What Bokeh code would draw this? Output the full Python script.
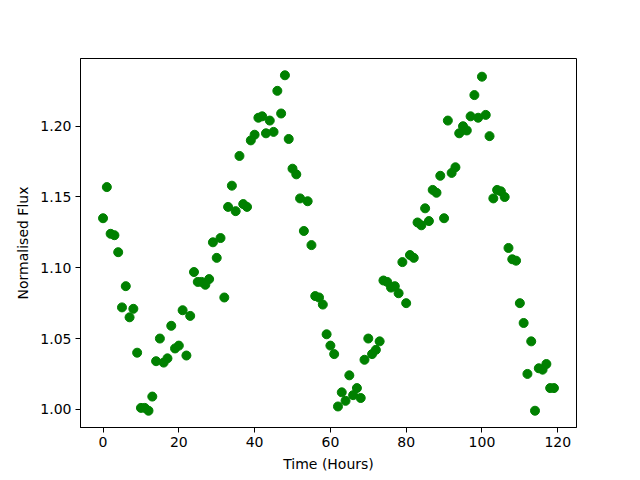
from bokeh.plotting import figure
from bokeh.models import Range1d, FixedTicker, CustomJSTickFormatter
from bokeh.embed import file_html
from bokeh.resources import INLINE

hours = list(range(120))
flux = [
    1.135, 1.157, 1.124, 1.123, 1.111, 1.072, 1.087, 1.065, 1.071, 1.040,
    1.001, 1.001, 0.999, 1.009, 1.034, 1.050, 1.033, 1.036, 1.059, 1.043,
    1.045, 1.070, 1.038, 1.066, 1.097, 1.090, 1.090, 1.088, 1.092, 1.118,
    1.107, 1.121, 1.079, 1.143, 1.158, 1.140, 1.179, 1.145, 1.143, 1.190,
    1.194, 1.206, 1.207, 1.195, 1.204, 1.196, 1.225, 1.209, 1.236, 1.191,
    1.170, 1.166, 1.149, 1.126, 1.147, 1.116, 1.080, 1.079, 1.074, 1.053,
    1.045, 1.039, 1.002, 1.012, 1.006, 1.024, 1.010, 1.015, 1.008, 1.035,
    1.050, 1.039, 1.042, 1.048, 1.091, 1.090, 1.086, 1.087, 1.082, 1.104,
    1.075, 1.109, 1.107, 1.132, 1.130, 1.142, 1.133, 1.155, 1.153, 1.165,
    1.135, 1.204, 1.167, 1.171, 1.195, 1.200, 1.197, 1.207, 1.222, 1.206,
    1.235, 1.208, 1.193, 1.149, 1.155, 1.154, 1.150, 1.114, 1.106, 1.105,
    1.075, 1.061, 1.025, 1.048, 0.999, 1.029, 1.028, 1.032, 1.015, 1.015,
]
x_ticks = [0, 20, 40, 60, 80, 100, 120]
y_ticks = [1.00, 1.05, 1.10, 1.15, 1.20]
x_label = "Time (Hours)"
y_label = "Normalised Flux"

xmin, xmax = min(hours), max(hours)
ymin, ymax = min(flux), max(flux)
xm = 0.05 * (xmax - xmin)
ym = 0.05 * (ymax - ymin)

p = figure(width=640, height=480, output_backend="svg", toolbar_location=None,
           x_range=Range1d(xmin - xm, xmax + xm),
           y_range=Range1d(ymin - ym, ymax + ym),
           min_border_left=80, min_border_right=64,
           min_border_top=58, min_border_bottom=53)

p.scatter(hours, flux, size=9, fill_color="#008000", line_color="#008000")

p.xgrid.visible = False
p.ygrid.visible = False
p.outline_line_color = "black"
p.outline_line_width = 1
p.background_fill_color = "white"
p.border_fill_color = "white"

p.xaxis.ticker = FixedTicker(ticks=x_ticks)
p.yaxis.ticker = FixedTicker(ticks=y_ticks)
p.yaxis.formatter = CustomJSTickFormatter(code="return tick.toFixed(2);")
p.xaxis.axis_label = x_label
p.yaxis.axis_label = y_label

for ax in (p.xaxis, p.yaxis):
    ax.minor_tick_line_color = None
    ax.major_tick_in = 0
    ax.major_tick_out = 5
    ax.major_tick_line_color = "black"
    ax.axis_line_color = "black"
    ax.major_label_text_font = "DejaVu Sans"
    ax.major_label_text_font_size = "14px"
    ax.major_label_text_color = "black"
    ax.axis_label_text_font = "DejaVu Sans"
    ax.axis_label_text_font_size = "14px"
    ax.axis_label_text_font_style = "normal"
    ax.axis_label_text_color = "black"
    ax.major_label_standoff = 4
    ax.axis_label_standoff = 6

open("out.html", "w").write(file_html(p, INLINE))
